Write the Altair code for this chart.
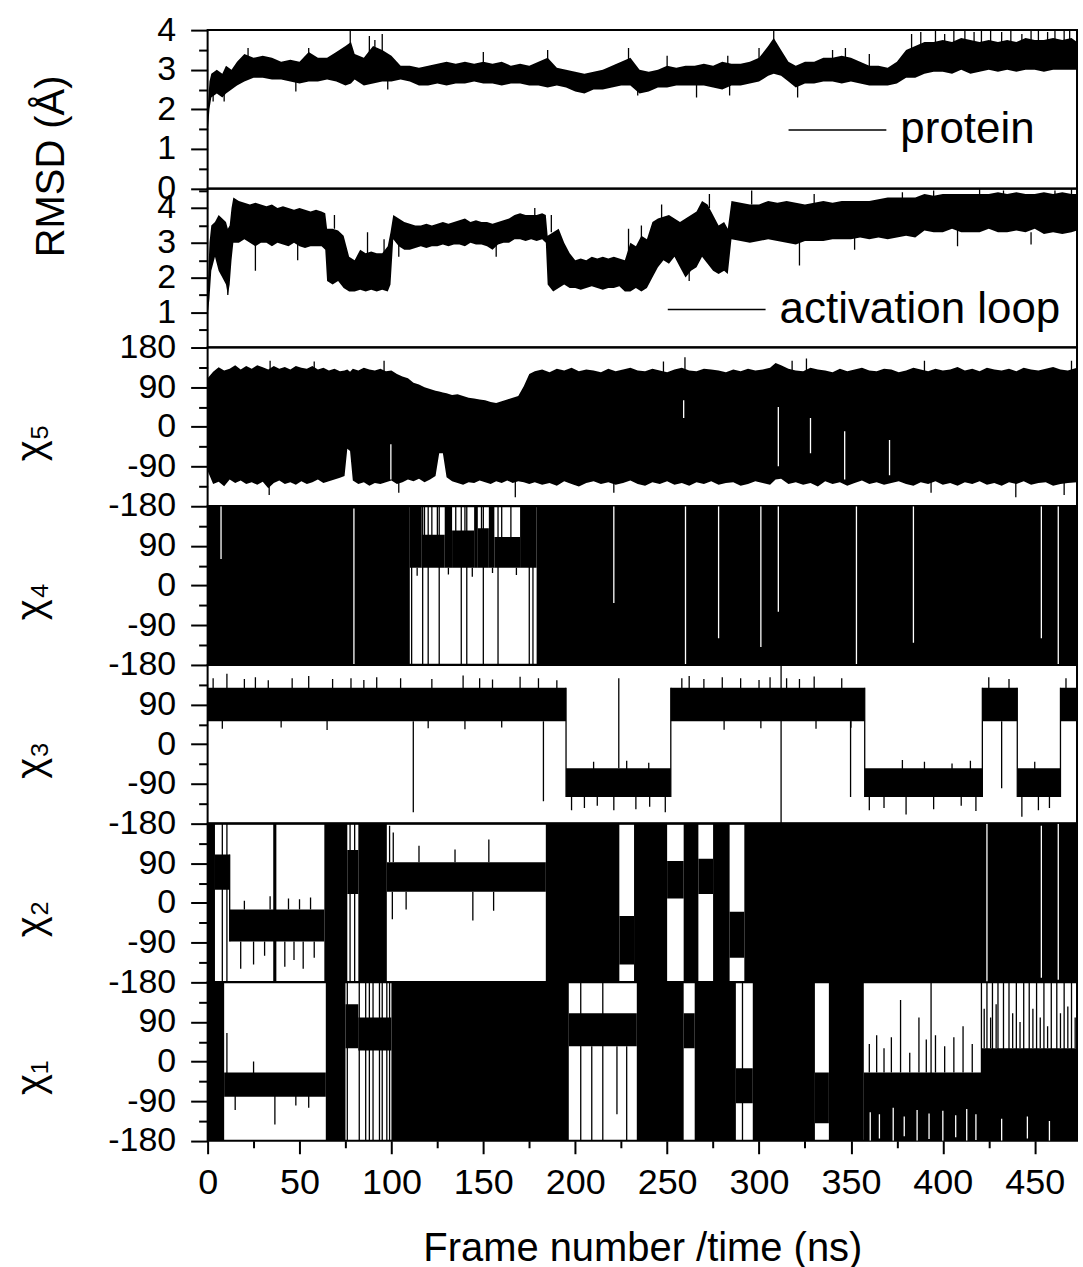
import altair as alt
import pandas as pd

# ---------------- axis tick values ----------------
x_major_ticks = [0, 50, 100, 150, 200, 250, 300, 350, 400, 450]
x_minor_ticks = [25, 75, 125, 175, 225, 275, 325, 375, 425]
rmsd1_major = [0, 1, 2, 3, 4]
rmsd1_minor = [0.5, 1.5, 2.5, 3.5]
rmsd2_major = [1, 2, 3, 4]
rmsd2_minor = [0.5, 1.5, 2.5, 3.5, 4.5]
chi5_major = [-180, -90, 0, 90, 180]
chi_major = [-180, -90, 0, 90]
chi_minor = [-135, -45, 45, 135]

# ---------------- protein RMSD (envelope of the trace) ----------------
prot_t = [0, 1, 2, 5, 8, 10, 13, 16, 20, 25,
          30, 35, 40, 45, 50, 55, 60, 65, 70, 75,
          78, 80, 85, 90, 95, 100, 105, 110, 115, 120,
          125, 130, 135, 140, 145, 150, 155, 160, 165, 170,
          175, 180, 185, 190, 195, 200, 205, 210, 215, 220,
          225, 230, 235, 240, 245, 250, 255, 260, 265, 270,
          275, 280, 285, 290, 295, 300, 305, 308, 312, 316,
          320, 325, 330, 335, 340, 345, 350, 355, 360, 365,
          370, 375, 380, 385, 390, 395, 400, 405, 410, 415,
          420, 425, 430, 435, 440, 445, 450, 455, 460, 465,
          470, 473]
prot_lo = [1.4, 2.0, 2.3, 2.4, 2.3, 2.4, 2.5, 2.6, 2.7, 2.8,
           2.8, 2.75, 2.75, 2.7, 2.65, 2.7, 2.7, 2.75, 2.7, 2.6,
           2.65, 2.75, 2.6, 2.65, 2.7, 2.7, 2.75, 2.7, 2.6, 2.6,
           2.65, 2.6, 2.65, 2.65, 2.7, 2.65, 2.65, 2.6, 2.65, 2.65,
           2.6, 2.6, 2.55, 2.6, 2.55, 2.45, 2.4, 2.5, 2.5, 2.55,
           2.6, 2.6, 2.4, 2.45, 2.55, 2.55, 2.6, 2.6, 2.6, 2.6,
           2.55, 2.5, 2.6, 2.6, 2.65, 2.7, 2.85, 2.9, 2.85, 2.7,
           2.55, 2.65, 2.65, 2.7, 2.7, 2.65, 2.7, 2.65, 2.6, 2.6,
           2.6, 2.65, 2.8, 2.8, 2.9, 2.95, 2.95, 2.9, 3.0, 2.9,
           2.95, 3.0, 2.95, 3.0, 2.95, 3.0, 3.0, 2.95, 3.0, 3.0,
           3.0, 3.0]
prot_hi = [2.0, 2.7, 2.9, 3.0, 2.9, 3.1, 3.0, 3.2, 3.4, 3.3,
           3.35, 3.3, 3.2, 3.25, 3.2, 3.45, 3.3, 3.3, 3.45, 3.6,
           3.7, 3.4, 3.3, 3.6, 3.5, 3.35, 3.1, 3.1, 3.05, 3.1,
           3.15, 3.2, 3.15, 3.2, 3.15, 3.2, 3.15, 3.2, 3.1, 3.15,
           3.1, 3.2, 3.3, 3.05, 3.0, 2.95, 2.9, 2.95, 3.0, 3.1,
           3.2, 3.3, 3.0, 2.95, 3.0, 3.1, 3.05, 3.1, 3.1, 3.15,
           3.1, 3.2, 3.15, 3.15, 3.2, 3.3, 3.6, 3.8, 3.5, 3.2,
           3.1, 3.2, 3.2, 3.3, 3.3, 3.35, 3.3, 3.2, 3.1, 3.1,
           3.05, 3.2, 3.5, 3.6, 3.7, 3.7, 3.75, 3.7, 3.8, 3.75,
           3.7, 3.75, 3.7, 3.75, 3.7, 3.8, 3.75, 3.75, 3.8, 3.75,
           3.8, 3.7]
prot_sp_t = [3, 9, 22, 48, 55, 77.6, 88, 91, 95, 98,
             150, 185, 229, 234, 250, 266, 283, 284, 300, 308,
             321, 340, 347, 360, 383, 388, 396, 401, 406, 412,
             417, 421, 426, 432, 437, 443, 448, 452, 457, 461,
             466, 469]
prot_sp_lo = [2.2, 2.2, 3.0, 2.45, 3.0, 3.2, 3.0, 3.0, 3.0, 2.5,
              3.0, 3.0, 3.0, 2.35, 2.9, 2.3, 2.9, 2.35, 3.0, 3.3,
              2.3, 3.0, 2.9, 3.0, 3.2, 3.3, 3.3, 3.3, 3.3, 3.3,
              3.3, 3.3, 3.3, 3.3, 3.3, 3.3, 3.3, 3.3, 3.3, 3.3,
              3.3, 3.3]
prot_sp_hi = [2.8, 2.8, 3.55, 2.8, 3.55, 4.0, 3.85, 3.75, 3.9, 3.0,
              3.45, 3.5, 3.55, 2.8, 3.35, 2.7, 3.35, 2.7, 3.55, 4.0,
              2.7, 3.5, 3.55, 3.4, 3.9, 3.95, 4.0, 3.9, 4.0, 4.0,
              3.95, 4.0, 4.0, 3.95, 4.0, 3.9, 4.0, 4.0, 3.95, 4.0,
              4.0, 4.0]

# ---------------- activation loop RMSD ----------------
loop_t = [0, 1, 2, 4, 6, 8, 10, 11, 12, 13,
          14, 17, 20, 23, 26, 29, 32, 35, 38, 41,
          44, 47, 50, 53, 56, 59, 62, 64, 65, 68,
          71, 74, 77, 80, 83, 86, 89, 92, 95, 98,
          99.5, 101, 104, 107, 110, 113, 116, 119, 122, 125,
          128, 131, 134, 137, 140, 143, 146, 149, 152, 155,
          158, 161, 164, 167, 170, 173, 176, 179, 182, 184,
          185, 188, 191, 194, 197, 200, 203, 206, 209, 212,
          215, 218, 221, 224, 227, 230, 233, 236, 239, 242,
          245, 248, 251, 254, 257, 260, 263, 266, 269, 272,
          275, 278, 281, 283, 285, 290, 295, 300, 305, 310,
          315, 320, 325, 330, 335, 340, 345, 350, 355, 360,
          365, 370, 375, 380, 385, 390, 395, 400, 405, 410,
          415, 420, 425, 430, 435, 440, 445, 450, 455, 460,
          465, 470, 473]
loop_lo = [0.9, 1.4, 2.2, 2.6, 2.2, 2.0, 1.8, 1.5, 1.8, 2.5,
           3.0, 3.0, 3.1, 3.0, 2.9, 3.0, 3.0, 2.9, 3.0, 2.95,
           2.9, 3.0, 2.9, 2.85, 2.9, 2.9, 2.9, 2.8, 1.9, 1.8,
           1.9, 1.7, 1.6, 1.6, 1.65, 1.6, 1.65, 1.6, 1.65, 1.6,
           1.8, 3.1, 2.9, 2.8, 2.8, 2.85, 2.9, 2.85, 2.9, 2.9,
           2.95, 2.9, 2.95, 2.95, 2.9, 3.0, 2.95, 2.95, 2.9, 2.8,
           2.95, 3.0, 3.0, 3.1, 3.1, 3.05, 3.1, 3.05, 3.1, 3.0,
           1.8, 1.6, 1.7, 1.8, 1.7, 1.7, 1.65, 1.7, 1.75, 1.7,
           1.65, 1.7, 1.7, 1.75, 1.6, 1.6, 1.7, 1.6, 1.7, 2.0,
           2.3, 2.5, 2.4, 2.6, 2.3, 2.0, 2.2, 2.3, 2.6, 2.4,
           2.2, 2.1, 2.2, 2.1, 3.1, 3.05, 3.0, 3.05, 3.1, 3.05,
           3.0, 2.95, 3.05, 3.05, 3.05, 3.1, 3.1, 3.1, 3.15, 3.1,
           3.15, 3.1, 3.15, 3.2, 3.15, 3.35, 3.3, 3.3, 3.4, 3.3,
           3.3, 3.3, 3.4, 3.3, 3.3, 3.35, 3.3, 3.4, 3.25, 3.3,
           3.25, 3.3, 3.35]
loop_hi = [1.6, 3.0, 3.5, 3.6, 3.8, 3.7, 3.6, 3.4, 3.5, 4.0,
           4.3, 4.2, 4.15, 4.1, 4.15, 4.1, 4.05, 4.1, 4.0, 4.05,
           4.0, 3.95, 4.0, 3.95, 3.9, 3.95, 3.9, 3.85, 3.4, 3.4,
           3.35, 3.2, 2.6, 2.5, 2.8, 2.7, 2.75, 2.7, 2.7, 2.9,
           3.3, 3.8, 3.7, 3.6, 3.55, 3.5, 3.5, 3.55, 3.5, 3.55,
           3.6, 3.55, 3.6, 3.65, 3.7, 3.6, 3.65, 3.6, 3.6, 3.55,
           3.6, 3.65, 3.7, 3.8, 3.85, 3.8, 3.8, 3.8, 3.85, 3.8,
           3.2, 3.3, 3.4, 3.0, 2.7, 2.5, 2.55, 2.5, 2.6, 2.55,
           2.6, 2.55, 2.6, 2.55, 2.5, 3.0, 2.9, 3.2, 3.1, 3.6,
           3.7, 3.75, 3.8, 3.7, 3.6, 3.7, 3.8, 3.9, 4.2, 4.1,
           3.8, 3.5, 3.6, 3.4, 4.2, 4.15, 4.1, 4.1, 4.2, 4.15,
           4.2, 4.15, 4.1, 4.15, 4.2, 4.15, 4.2, 4.2, 4.2, 4.2,
           4.25, 4.3, 4.3, 4.3, 4.3, 4.4, 4.35, 4.4, 4.4, 4.4,
           4.4, 4.4, 4.4, 4.45, 4.4, 4.45, 4.4, 4.4, 4.45, 4.4,
           4.45, 4.4, 4.4]
loop_sp_t = [11, 26, 49, 69, 87, 96, 104, 157, 178, 187,
             229, 236, 247, 262, 273, 296, 322, 330, 352, 378,
             395, 408, 420, 433, 448, 461, 470]
loop_sp_lo = [1.5, 2.2, 2.5, 3.4, 2.6, 2.6, 2.6, 2.6, 3.6, 3.3,
              2.5, 2.5, 3.7, 1.9, 4.0, 4.1, 2.35, 4.1, 2.8, 4.2,
              4.3, 2.9, 4.3, 4.3, 2.95, 4.3, 4.3]
loop_sp_hi = [2.2, 3.0, 3.0, 3.8, 3.3, 3.1, 3.0, 3.0, 4.0, 3.8,
              3.4, 3.5, 4.1, 2.4, 4.4, 4.5, 3.0, 4.4, 3.2, 4.45,
              4.5, 3.4, 4.55, 4.5, 3.3, 4.5, 4.55]

# ---------------- chi5 (envelope) ----------------
chi5_t = [0, 3, 6, 9, 12, 15, 18, 21, 24, 27,
          30, 33, 36, 39, 42, 45, 48, 51, 54, 57,
          60, 63, 66, 69, 72, 74.5, 76, 77.5, 79, 82,
          85, 88, 91, 94, 97, 100, 103, 106, 109, 112,
          115, 118, 121, 124, 126, 128, 130, 133, 136, 139,
          142, 145, 148, 151, 154, 157, 160, 163, 166, 169,
          172, 175, 178, 182, 186, 190, 194, 198, 202, 206,
          210, 214, 218, 222, 226, 230, 234, 238, 242, 246,
          250, 254, 258, 262, 266, 270, 274, 278, 282, 286,
          290, 294, 298, 302, 306, 309, 312, 316, 320, 324,
          328, 332, 336, 340, 344, 348, 352, 356, 360, 364,
          368, 372, 376, 380, 384, 388, 392, 396, 400, 404,
          408, 412, 416, 420, 424, 428, 432, 436, 440, 444,
          448, 452, 456, 460, 464, 468, 473]
chi5_lo = [-100, -130, -125, -135, -120, -128, -122, -130, -126, -132,
           -125, -140, -128, -122, -130, -126, -132, -124, -130, -126,
           -120, -128, -124, -120, -116, -112, -50, -55, -122, -130,
           -126, -134, -128, -130, -126, -122, -130, -126, -120, -124,
           -118, -126, -120, -112, -60, -60, -115, -124, -128, -132,
           -126, -128, -122, -126, -130, -124, -128, -122, -128, -124,
           -126, -130, -126, -132, -128, -134, -124, -130, -136, -128,
           -124, -130, -126, -132, -128, -122, -130, -134, -126, -130,
           -124, -132, -128, -134, -126, -130, -124, -132, -128, -126,
           -134, -130, -124, -128, -132, -120, -118, -130, -126, -132,
           -128, -136, -124, -130, -126, -134, -128, -122, -130, -126,
           -132, -128, -124, -130, -134, -126, -130, -124, -132, -128,
           -134, -126, -130, -124, -132, -128, -134, -126, -130, -124,
           -132, -128, -126, -134, -130, -128, -126]
chi5_hi = [110, 125, 135, 128, 132, 140, 130, 138, 132, 140,
           135, 130, 138, 132, 136, 130, 138, 134, 132, 138,
           130, 134, 128, 132, 126, 128, 130, 125, 132, 128,
           134, 130, 128, 132, 126, 128, 120, 114, 110, 100,
           96, 90, 86, 82, 80, 78, 76, 72, 74, 70,
           66, 64, 62, 60, 56, 54, 58, 62, 66, 70,
           92, 120, 126, 130, 124, 132, 128, 134, 126, 130,
           128, 124, 132, 126, 130, 134, 128, 126, 132, 128,
           124, 130, 134, 128, 126, 132, 130, 128, 124, 130,
           126, 132, 128, 130, 134, 145, 140, 132, 128, 126,
           134, 130, 128, 124, 132, 126, 130, 134, 128, 126,
           132, 130, 124, 128, 134, 130, 126, 132, 128, 130,
           136, 128, 132, 126, 134, 130, 128, 132, 126, 134,
           130, 128, 132, 136, 130, 128, 134]
chi5_sp_t = [33.5, 34, 58, 96, 104, 167.4, 221, 248, 259.7, 318, 325.8, 390, 393.6, 439.7, 466, 470]
chi5_sp_lo = [-155, 100, 100, 100, -150, -160, -150, 100, 100, 100, 100, 100, -150, -160, -155, 100]
chi5_sp_hi = [-100, 150, 148, 150, -100, -100, -100, 148, 158, 150, 155, 150, -100, -100, -100, 150]
chi5_gap_t = [99.7, 259, 310.5, 328, 346.6, 371]
chi5_gap_lo = [-120, 20, -90, -60, -120, -110]
chi5_gap_hi = [-40, 60, 45, 20, -10, -30]

# ---------------- chi4 ----------------
chi4_seg_t0 = [0, 110, 116.5, 129, 133, 145, 147, 153, 156, 170, 179]
chi4_seg_t1 = [110, 116.5, 129, 133, 145, 147, 153, 156, 170, 179, 473]
chi4_seg_lo = [-180, 40, 40, 40, 40, 40, 40, 40, 40, 40, -180]
chi4_seg_hi = [180, 180, 115, 180, 125, 180, 130, 180, 110, 180, 180]
chi4_sp_t = [111, 117, 120, 126, 138, 141, 150, 158, 175, 177,
             118, 122, 125, 135, 140, 149, 160, 165,
             114, 131, 144, 155, 168]
chi4_sp_lo = [-180, -180, -180, -180, -180, -180, -180, -180, -180, -180,
              100, 95, 100, 110, 105, 100, 95, 100,
              22, 25, 20, 28, 24]
chi4_sp_hi = [180, 180, 180, 180, 180, 180, 180, 180, 180, 180,
              180, 180, 180, 180, 180, 180, 180, 180,
              40, 40, 40, 40, 40]
chi4_gap_t = [7.3, 79.6, 221, 260, 278, 301, 310.5, 353, 384, 453.6, 462.8]
chi4_gap_lo = [60, -180, -40, -180, -120, -140, -60, -180, -130, -120, -180]
chi4_gap_hi = [180, 175, 180, 180, 180, 180, 180, 180, 180, 180, 180]

# ---------------- chi3 ----------------
chi3_seg_t0 = [0, 195, 252, 357.5, 421.5, 440.5, 464]
chi3_seg_t1 = [195, 252, 357.5, 421.5, 440.5, 464, 473]
chi3_seg_lo = [52, -120, 52, -120, 52, -120, 52]
chi3_seg_hi = [128, -55, 128, -55, 128, -55, 128]
chi3_sp_t = [195, 252, 357.5, 421.5, 440.5, 464, 111.9, 182.7, 223.7, 312, 349.8, 432,
             3, 10.5, 20, 26, 33, 46, 55, 68, 78, 85,
             92, 105, 122, 139, 148, 155, 170, 180, 190, 258,
             262, 270, 280, 290, 300, 306, 315, 322, 330, 345,
             425, 436, 467,
             8, 40, 65, 120, 140, 160, 281, 301, 331, 350,
             210, 228, 240, 378, 390, 405, 415, 450,
             198, 205, 212, 221, 233, 240.5, 249, 360, 368, 380, 395, 410, 418, 443, 452, 458]
chi3_sp_lo = [-120, -120, -120, -120, -120, -120, -155, -130, -55, -180, -120, -100,
              120, 120, 120, 120, 120, 120, 120, 120, 120, 120,
              120, 120, 120, 120, 120, 120, 120, 120, 120, 120,
              120, 120, 120, 120, 120, 120, 120, 120, 120, 120,
              120, 120, 120,
              35, 38, 32, 36, 34, 38, 33, 36, 35, 37,
              -58, -58, -58, -58, -58, -58, -58, -58,
              -150, -145, -140, -150, -148, -142, -155, -150, -145, -160, -148, -140, -152, -165, -150, -145]
chi3_sp_hi = [128, 128, 128, 128, 128, 128, 52, 52, 150, 180, 52, 52,
              150, 160, 148, 152, 145, 150, 155, 148, 150, 146,
              152, 150, 148, 156, 150, 147, 153, 150, 145, 150,
              155, 148, 152, 150, 146, 152, 150, 148, 154, 150,
              152, 148, 150,
              55, 55, 55, 55, 55, 55, 55, 55, 55, 55,
              -40, -38, -42, -36, -40, -44, -38, -40,
              -115, -115, -115, -115, -115, -115, -115, -115, -115, -115, -115, -115, -115, -115, -115, -115]

# ---------------- chi2 ----------------
chi2_seg_t0 = [0, 4, 12, 35.7, 63.5, 76, 82, 97.5, 184, 224, 232, 250, 259, 267, 275, 284, 292]
chi2_seg_t1 = [4, 12, 63.5, 37.4, 76, 82, 97.5, 184, 224, 232, 250, 259, 267, 275, 284, 292, 473]
chi2_seg_lo = [-180, 30, -88, -180, -180, 20, -180, 25, -180, -140, -180, 10, -180, 20, -180, -125, -180]
chi2_seg_hi = [180, 110, -15, 180, 180, 120, 180, 92, 180, -30, 180, 95, 180, 100, 180, -20, 180]
chi2_sp_t = [8, 10.5, 12, 77.5, 80,
             100.5, 108, 144.3, 155.6, 115, 134.6, 153, 99, 101,
             18, 25, 31, 42, 47, 52, 58,
             20, 34, 44, 50, 56]
chi2_sp_lo = [-180, -180, -88, -180, -180,
              -37, -15, -40, -18, 92, 92, 92, 92, 92,
              -150, -140, -120, -145, -130, -150, -125,
              -15, -15, -15, -15, -15]
chi2_sp_hi = [180, 180, 110, 180, 180,
              25, 25, 25, 25, 130, 121, 144, 175, 160,
              -88, -88, -88, -88, -88, -88, -88,
              5, 15, 10, 8, 12]
chi2_gap_t = [424, 453.6, 462.8]
chi2_gap_lo = [-180, -170, -175]
chi2_gap_hi = [180, 175, 180]

# ---------------- chi1 ----------------
chi1_seg_t0 = [0, 9, 64.3, 75, 82, 100, 196.5, 233.5, 259, 265, 287.4, 296.6, 330.4, 338, 357, 421]
chi1_seg_t1 = [9, 64.3, 75, 82, 100, 196.5, 233.5, 259, 265, 287.4, 296.6, 330.4, 338, 357, 421, 473]
chi1_seg_lo = [-180, -80, -180, 30, 25, -180, 35, -180, 30, -180, -95, -180, -140, -180, -180, -180]
chi1_seg_hi = [180, -25, 180, 130, 100, 180, 110, 180, 110, 180, -15, 180, -25, 180, -25, 30]
chi1_sp_t = [76, 82.5, 86, 88, 90, 93.5, 95, 97.5, 99, 203, 215, 291, 393.6,
             421, 424, 427, 430, 433, 436, 440, 444, 447, 451, 455, 459, 462, 466, 470,
             209, 222.7, 228, 10.5, 36.6, 15, 25, 48, 55,
             360, 364, 368, 372, 377, 382, 387, 391, 396, 401, 406, 411, 416,
             422.5, 426, 429, 438, 442, 449, 453, 457, 464, 468, 472]
chi1_sp_lo = [-180, -180, -180, -180, -180, -180, -180, -180, -180, -180, -180, -180, -180,
              -180, -180, -180, -180, -180, -180, -180, -180, -180, -180, -180, -180, -180, -180, -180,
              -180, -120, -180, -50, -143, -110, -30, -100, -105,
              -25, -25, -25, -25, -25, -25, -25, -25, -25, -25, -25, -25, -25,
              30, 30, 30, 30, 30, 30, 30, 30, 30, 30, 30]
chi1_sp_hi = [180, 180, 180, 180, 180, 180, 180, 180, 180, 180, 180, 180, 180,
              180, 180, 180, 180, 180, 180, 180, 180, 180, 180, 180, 180, 180, 180, 180,
              35, 35, 35, 65, -50, -70, 0, -60, -70,
              40, 60, 30, 55, 140, 20, 100, 50, 60, 35, 55, 80, 40,
              120, 100, 130, 110, 90, 120, 100, 80, 110, 125, 100]
chi1_gap_t = [360.5, 365.5, 373, 379, 386, 392.5, 400, 407, 413, 418, 432, 446, 458]
chi1_gap_lo = [-180, -175, -180, -170, -180, -176, -180, -172, -180, -178, -180, -175, -180]
chi1_gap_hi = [-115, -120, -105, -125, -110, -118, -112, -122, -108, -120, -130, -125, -135]

# ======================= chart =======================
FONT = "Liberation Sans, Arial, Helvetica, sans-serif"
PW, PH = 871, 158.7
XS = alt.Scale(domain=[0, 473], nice=False, zero=False)


def band_df(t, lo, hi):
    return pd.DataFrame({"t": t, "lo": lo, "hi": hi})


def seg_df(t0, t1, lo, hi):
    return pd.DataFrame({"t0": t0, "t1": t1, "lo": lo, "hi": hi})


def y_major_axis(values, title="", tx=-176, ty=95, tsize=40):
    return alt.Axis(orient="left", values=values, labelExpr="'' + datum.value",
                    labelFont=FONT, labelFontSize=34, labelColor="black", labelPadding=15,
                    labelOverlap=False, labelFlush=False, tickSize=17, tickWidth=2,
                    tickColor="black", domain=False, grid=False, title=title,
                    titleFont=FONT, titleFontSize=tsize, titleFontWeight="normal",
                    titleColor="black", titleAngle=270, titleAlign="center",
                    titleBaseline="middle", titleX=tx, titleY=ty)


def y_minor_axis(values):
    return alt.Axis(orient="left", values=values, labels=False, tickSize=9, tickWidth=2,
                    tickColor="black", domain=False, grid=False, title="")


def x_major_axis():
    return alt.Axis(orient="bottom", values=x_major_ticks, labelFont=FONT, labelFontSize=36,
                    labelColor="black", labelPadding=12, labelOverlap=False, labelFlush=False,
                    tickSize=13, tickWidth=2, tickColor="black", domain=False, grid=False,
                    title="Frame number /time (ns)", titleFont=FONT, titleFontSize=40,
                    titleFontWeight="normal", titleColor="black", titlePadding=28)


def x_minor_axis():
    return alt.Axis(orient="bottom", values=x_minor_ticks, labels=False, tickSize=7, tickWidth=2,
                    tickColor="black", domain=False, grid=False, title="")


def area_layer(df, ys, yaxis, xaxis):
    return alt.Chart(df).mark_area(color="black", clip=True, interpolate="linear").encode(
        x=alt.X("t:Q", scale=XS, axis=xaxis),
        y=alt.Y("lo:Q", scale=ys, axis=yaxis),
        y2=alt.Y2("hi"),
    )


def rect_layer(df, ys, yaxis, xaxis):
    return alt.Chart(df).mark_rect(color="black", clip=True).encode(
        x=alt.X("t0:Q", scale=XS, axis=xaxis),
        x2=alt.X2("t1"),
        y=alt.Y("lo:Q", scale=ys, axis=yaxis),
        y2=alt.Y2("hi"),
    )


def rule_layer(df, ys, yaxis, xaxis, color="black", legend_name=None, legend=None):
    enc = dict(
        x=alt.X("t:Q", scale=XS, axis=xaxis),
        y=alt.Y("lo:Q", scale=ys, axis=yaxis),
        y2=alt.Y2("hi"),
    )
    ch = alt.Chart(df).mark_rule(color=color, strokeWidth=1.3, clip=True)
    if legend_name is not None:
        enc["color"] = alt.Color("series:N", scale=alt.Scale(domain=[legend_name], range=["black"]),
                                 legend=legend)
    return ch.encode(**enc)


def make_legend(lx, ly):
    return alt.Legend(title=None, orient="none", legendX=lx, legendY=ly, symbolType="stroke",
                      symbolSize=9600, symbolStrokeWidth=1.5, labelFont=FONT, labelFontSize=44,
                      labelColor="black", labelOffset=13, padding=0, labelLimit=600)


def panel(layers):
    return alt.layer(*layers).properties(width=PW, height=PH).resolve_axis(x="independent", y="independent")


# panel 1: protein RMSD
ys1 = alt.Scale(domain=[0, 4], nice=False, zero=False)
d = band_df(prot_sp_t, prot_sp_lo, prot_sp_hi)
d["series"] = "protein"
p1 = panel([
    area_layer(band_df(prot_t, prot_lo, prot_hi), ys1,
               y_major_axis(rmsd1_major, "RMSD (Å)", -156, 136, 40), None),
    rule_layer(d, ys1, y_minor_axis(rmsd1_minor), None, legend_name="protein", legend=make_legend(581, 50)),
])

# panel 2: activation loop RMSD
ys2 = alt.Scale(domain=[0, 4.55], nice=False, zero=False)
d = band_df(loop_sp_t, loop_sp_lo, loop_sp_hi)
d["series"] = "activation loop"
p2 = panel([
    area_layer(band_df(loop_t, loop_lo, loop_hi), ys2, y_major_axis(rmsd2_major), None),
    rule_layer(d, ys2, y_minor_axis(rmsd2_minor), None, legend_name="activation loop",
               legend=make_legend(460, 71)),
])

ysc = alt.Scale(domain=[-180, 180], nice=False, zero=False)

# panel 3: chi5
p3 = panel([
    area_layer(band_df(chi5_t, chi5_lo, chi5_hi), ysc, y_major_axis(chi5_major, "χ₅"), None),
    rule_layer(band_df(chi5_sp_t, chi5_sp_lo, chi5_sp_hi), ysc, y_minor_axis(chi_minor), None),
    rule_layer(band_df(chi5_gap_t, chi5_gap_lo, chi5_gap_hi), ysc, None, None, color="white"),
])

# panel 4: chi4
p4 = panel([
    rect_layer(seg_df(chi4_seg_t0, chi4_seg_t1, chi4_seg_lo, chi4_seg_hi), ysc, y_major_axis(chi_major, "χ₄"), None),
    rule_layer(band_df(chi4_sp_t, chi4_sp_lo, chi4_sp_hi), ysc, y_minor_axis(chi_minor), None),
    rule_layer(band_df(chi4_gap_t, chi4_gap_lo, chi4_gap_hi), ysc, None, None, color="white"),
])

# panel 5: chi3
p5 = panel([
    rect_layer(seg_df(chi3_seg_t0, chi3_seg_t1, chi3_seg_lo, chi3_seg_hi), ysc, y_major_axis(chi_major, "χ₃"), None),
    rule_layer(band_df(chi3_sp_t, chi3_sp_lo, chi3_sp_hi), ysc, y_minor_axis(chi_minor), None),
])

# panel 6: chi2
p6 = panel([
    rect_layer(seg_df(chi2_seg_t0, chi2_seg_t1, chi2_seg_lo, chi2_seg_hi), ysc, y_major_axis(chi_major, "χ₂"), None),
    rule_layer(band_df(chi2_sp_t, chi2_sp_lo, chi2_sp_hi), ysc, y_minor_axis(chi_minor), None),
    rule_layer(band_df(chi2_gap_t, chi2_gap_lo, chi2_gap_hi), ysc, None, None, color="white"),
])

# panel 7: chi1 (with the time axis)
p7 = panel([
    rect_layer(seg_df(chi1_seg_t0, chi1_seg_t1, chi1_seg_lo, chi1_seg_hi), ysc, y_major_axis(chi_major, "χ₁"), x_major_axis()),
    rule_layer(band_df(chi1_sp_t, chi1_sp_lo, chi1_sp_hi), ysc, y_minor_axis(chi_minor), x_minor_axis()),
    rule_layer(band_df(chi1_gap_t, chi1_gap_lo, chi1_gap_hi), ysc, None, None, color="white"),
])

chart = alt.vconcat(p1, p2, p3, p4, p5, p6, p7, spacing=0, bounds="flush").resolve_scale(
    y="independent", color="independent"
).resolve_legend(color="independent").properties(
    padding={"left": 11, "top": 11, "right": 5, "bottom": 0}, background="white"
).configure_view(stroke="black", strokeWidth=2)

chart.save("out.html", embed_options={"renderer": "svg", "actions": False})
